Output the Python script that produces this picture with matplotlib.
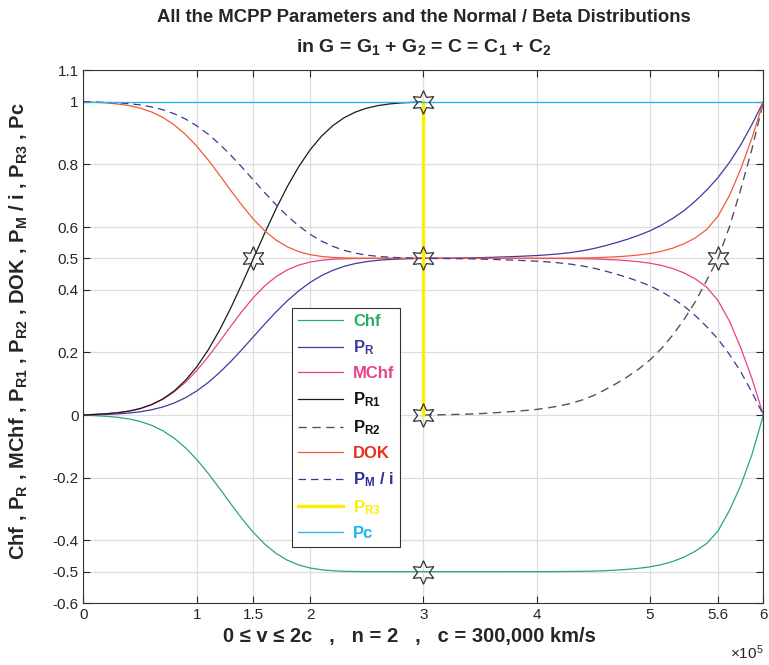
import matplotlib
matplotlib.use('Agg')
import matplotlib.pyplot as plt

plt.rcParams['font.family'] = ['Liberation Sans', 'DejaVu Sans']
plt.rcParams['mathtext.default'] = 'regular'

# velocity v in units of 10^5 km/s (first half 0..c, second half c..2c)
v_left = [0.0, 0.1, 0.2, 0.3, 0.4, 0.5, 0.6, 0.7, 0.8, 0.9, 1.0, 1.1, 1.2, 1.3, 1.4, 1.5,
          1.6, 1.7, 1.8, 1.9, 2.0, 2.1, 2.2, 2.3, 2.4, 2.5, 2.6, 2.7, 2.8, 2.9, 3.0]
v_right = [3.0, 3.1, 3.2, 3.3, 3.4, 3.5, 3.6, 3.7, 3.8, 3.9, 4.0, 4.1, 4.2, 4.3, 4.4, 4.5,
           4.6, 4.7, 4.8, 4.9, 5.0, 5.1, 5.2, 5.3, 5.4, 5.5, 5.6, 5.7, 5.8, 5.9, 6.0]
v_full = v_left + v_right[1:]

p_r1 = [0.0, 0.002, 0.004, 0.0072, 0.0124, 0.0206, 0.0331, 0.0512, 0.0766, 0.1104, 0.1538,
        0.2072, 0.2702, 0.3416, 0.4192, 0.5, 0.5808, 0.6584, 0.7298, 0.7928, 0.8462,
        0.8896, 0.9234, 0.9488, 0.9669, 0.9794, 0.9876, 0.9928, 0.996, 0.9979, 1.0]
p_r2 = [0.0, 0.0005, 0.0012, 0.002, 0.003, 0.0045, 0.0065, 0.009, 0.0115, 0.0145, 0.018,
        0.023, 0.029, 0.037, 0.048, 0.062, 0.08, 0.1, 0.122, 0.147, 0.176,
        0.212, 0.255, 0.305, 0.362, 0.43, 0.5, 0.6, 0.72, 0.85, 1.0]
p_r = [0.0, 0.001, 0.002, 0.0036, 0.0062, 0.0103, 0.0166, 0.0256, 0.0383, 0.0552, 0.0769,
       0.1036, 0.1351, 0.1708, 0.2096, 0.25, 0.2904, 0.3292, 0.3649, 0.3964, 0.4231,
       0.4448, 0.4617, 0.4744, 0.4835, 0.4897, 0.4938, 0.4964, 0.498, 0.499, 0.5,
       0.5003, 0.5006, 0.501, 0.5015, 0.5023, 0.5033, 0.5045, 0.5058, 0.5073, 0.509,
       0.5115, 0.5145, 0.5185, 0.524, 0.531, 0.54, 0.55, 0.561, 0.5735, 0.588,
       0.606, 0.6275, 0.6525, 0.683, 0.718, 0.758, 0.806, 0.862, 0.928, 1.0]
p_m_i = [1.0, 0.999, 0.998, 0.9964, 0.9938, 0.9897, 0.9834, 0.9744, 0.9617, 0.9448, 0.9231,
         0.8964, 0.8649, 0.8292, 0.7904, 0.75, 0.7096, 0.6708, 0.6351, 0.6036, 0.5769,
         0.5552, 0.5383, 0.5256, 0.5165, 0.5103, 0.5062, 0.5036, 0.502, 0.501, 0.5,
         0.4997, 0.4994, 0.499, 0.4985, 0.4977, 0.4967, 0.4955, 0.4942, 0.4927, 0.491,
         0.4885, 0.4855, 0.4815, 0.476, 0.469, 0.46, 0.45, 0.439, 0.4265, 0.412,
         0.394, 0.3725, 0.3475, 0.317, 0.282, 0.242, 0.194, 0.138, 0.072, 0.0]
mchf = [0.0, 0.002, 0.004, 0.0072, 0.0123, 0.0204, 0.0327, 0.0499, 0.0737, 0.1043, 0.142,
        0.1857, 0.2337, 0.2833, 0.3313, 0.375, 0.4121, 0.4417, 0.4635, 0.4785, 0.4882,
        0.4939, 0.4971, 0.4987, 0.4995, 0.4998, 0.4999, 0.5, 0.5, 0.5, 0.5,
        0.5, 0.5, 0.5, 0.5, 0.5, 0.5, 0.5, 0.4999, 0.4999, 0.4998,
        0.4997, 0.4996, 0.4993, 0.4988, 0.4981, 0.4968, 0.495, 0.4926, 0.4892, 0.4845,
        0.4775, 0.4675, 0.4535, 0.4345, 0.408, 0.365, 0.3, 0.215, 0.115, 0.0]
dok = [1.0, 0.998, 0.996, 0.9928, 0.9877, 0.9796, 0.9673, 0.9501, 0.9263, 0.8957, 0.858,
       0.8143, 0.7663, 0.7167, 0.6687, 0.625, 0.5879, 0.5583, 0.5365, 0.5215, 0.5118,
       0.5061, 0.5029, 0.5013, 0.5005, 0.5002, 0.5001, 0.5, 0.5, 0.5, 0.5,
       0.5, 0.5, 0.5, 0.5, 0.5, 0.5, 0.5, 0.5001, 0.5001, 0.5002,
       0.5003, 0.5004, 0.5007, 0.5012, 0.5019, 0.5032, 0.505, 0.5074, 0.5108, 0.5155,
       0.5225, 0.5325, 0.5465, 0.5655, 0.592, 0.635, 0.7, 0.785, 0.885, 1.0]
chf = [0.0, -0.002, -0.004, -0.0072, -0.0123, -0.0204, -0.0327, -0.0499, -0.0737, -0.1043, -0.142,
       -0.1857, -0.2337, -0.2833, -0.3313, -0.375, -0.4121, -0.4417, -0.4635, -0.4785, -0.4882,
       -0.4939, -0.4971, -0.4987, -0.4995, -0.4998, -0.4999, -0.5, -0.5, -0.5, -0.5,
       -0.5, -0.5, -0.5, -0.5, -0.5, -0.5, -0.5, -0.4999, -0.4999, -0.4998,
       -0.4997, -0.4996, -0.4993, -0.4988, -0.4981, -0.4968, -0.495, -0.4926, -0.4892, -0.4845,
       -0.4775, -0.4675, -0.4535, -0.4345, -0.41, -0.37, -0.305, -0.225, -0.125, 0.0]
v_r3 = [3.0, 3.0]
p_r3 = [0.0, 1.0]
v_pc = [0.0, 6.0]
pc = [1.0, 1.0]

star_v = [1.5, 3.0, 3.0, 3.0, 3.0, 5.6]
star_y = [0.5, 1.0, 0.5, 0.0, -0.5, 0.5]

xticks = [0, 1, 1.5, 2, 3, 4, 5, 5.6, 6]
xtick_labels = ['0', '1', '1.5', '2', '3', '4', '5', '5.6', '6']
yticks = [-0.6, -0.5, -0.4, -0.2, 0, 0.2, 0.4, 0.5, 0.6, 0.8, 1, 1.1]
ytick_labels = ['-0.6', '-0.5', '-0.4', '-0.2', '0', '0.2', '0.4', '0.5', '0.6', '0.8', '1', '1.1']

c_chf = '#2ba86a'
c_pr = '#3c3c9c'
c_mchf = '#e8418a'
c_pr1 = '#1a1a1a'
c_pr2 = '#555555'
c_dok = '#f05a3a'
c_pm = '#3a3a8c'
c_pr3 = '#ffee00'
c_pc = '#1fb4ec'

fig = plt.figure(figsize=(7.69, 6.65), dpi=100)
ax = fig.add_axes([0.1085, 0.0932, 0.8842, 0.8010])

ax.plot(v_full, chf, color=c_chf, lw=0.9, label='Chf')
ax.plot(v_full, p_r, color=c_pr, lw=0.9, label='P$_R$')
ax.plot(v_full, mchf, color=c_mchf, lw=0.9, label='MChf')
ax.plot(v_left, p_r1, color=c_pr1, lw=0.9, label='P$_{R1}$')
ax.plot(v_right, p_r2, color=c_pr2, lw=1.0, dashes=(6, 4), label='P$_{R2}$')
ax.plot(v_full, dok, color=c_dok, lw=0.9, label='DOK')
ax.plot(v_full, p_m_i, color=c_pm, lw=0.9, dashes=(6, 4), label='P$_M$ / i')
ax.plot(v_r3, p_r3, color=c_pr3, lw=2.4, label='P$_{R3}$')
ax.plot(v_pc, pc, color=c_pc, lw=0.9, label='Pc')

ax.plot(star_v, star_y, linestyle='none', marker=(6, 1, 0), markersize=17,
        markerfacecolor='none', markeredgecolor='#333333', markeredgewidth=0.9)

ax.set_xlim(0, 6)
ax.set_ylim(-0.6, 1.1)
ax.set_xticks(xticks)
ax.set_xticklabels(xtick_labels)
ax.set_yticks(yticks)
ax.set_yticklabels(ytick_labels)
ax.tick_params(direction='in', top=True, right=True, labelsize=11, colors='#262626', length=5, width=0.8)
ax.grid(True, color='#dddddd', lw=0.9)
ax.set_axisbelow(True)
for s in ax.spines.values():
    s.set_color('#333333')
    s.set_linewidth(0.8)

ax.text(1.0, -0.075, r'$\times$10$^5$', transform=ax.transAxes, ha='right', va='top',
        fontsize=11, color='#262626')

ax.set_xlabel('0 \u2264 v \u2264 2c   ,   n = 2   ,   c = 300,000 km/s', fontsize=14.5,
              fontweight='bold', color='#262626')
ax.xaxis.set_label_coords(0.479, -0.045)
ax.set_ylabel('Chf , P$_R$ , MChf , P$_{R1}$ , P$_{R2}$ , DOK , P$_M$ / i , P$_{R3}$ , Pc',
              fontsize=14.5, fontweight='bold', color='#262626')
ax.yaxis.set_label_coords(-0.078, 0.51)

fig.text(0.5506, 1 - 18 / 665, 'All the MCPP Parameters and the Normal / Beta Distributions',
         ha='center', va='center', fontsize=13.3, fontweight='bold', color='#262626')
fig.text(0.5506, 1 - 47 / 665, 'in G = G$_1$ + G$_2$ = C = C$_1$ + C$_2$',
         ha='center', va='center', fontsize=14, fontweight='bold', color='#262626')

leg = ax.legend(loc='upper left', bbox_to_anchor=(0.307, 0.553), borderaxespad=0, fancybox=False,
                edgecolor='#333333', framealpha=1, handlelength=2.7, handletextpad=0.6,
                labelspacing=0.55, prop={'weight': 'bold', 'size': 12}, borderpad=0.35)
leg.get_frame().set_linewidth(0.8)
for txt, col in zip(leg.get_texts(), [c_chf, c_pr, c_mchf, '#111111', '#111111', '#e8301c', '#2e2e9a', c_pr3, c_pc]):
    txt.set_color(col)

fig.savefig('out.png', dpi=100)
